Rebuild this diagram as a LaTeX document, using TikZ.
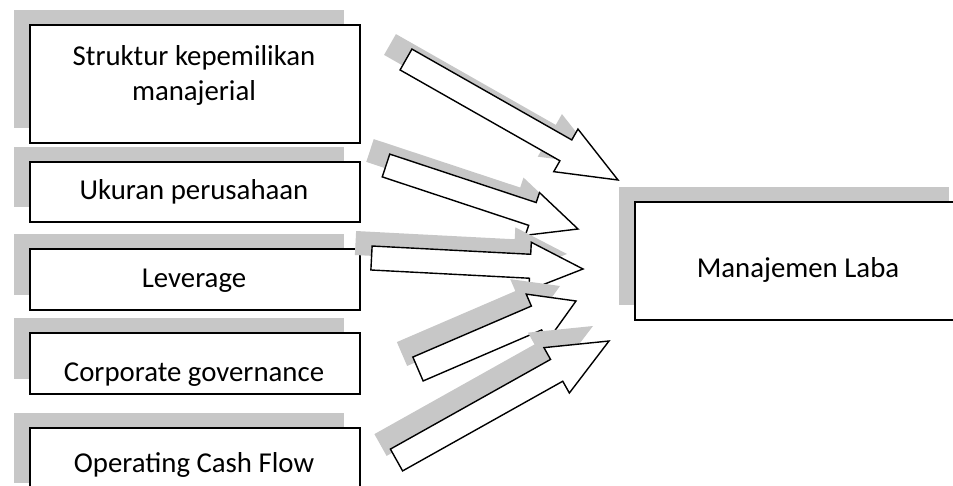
\documentclass[tikz,border=0pt]{standalone}
\usepackage{fontspec}
\setmainfont{Carlito}
\usetikzlibrary{calc}

\definecolor{shadowgray}{RGB}{199,199,199}

\tikzset{
  boxshadow/.style={preaction={fill=shadowgray, draw=none,
      transform canvas={shift={(-16pt,15pt)}}}},
  factorbox/.style={rectangle, draw=black, line width=2pt, fill=white,
      inner sep=0pt, anchor=north west, minimum width=330pt, boxshadow},
  boxtext/.style={anchor=base, inner sep=0pt,
      font=\fontsize{28.8}{35}\selectfont},
  flowshadow/.style={fill=shadowgray, draw=none,
      transform canvas={shift={(-16pt,15pt)}}},
  flowarrow/.style={draw=black, line width=1.4pt, fill=white, line join=miter},
}

% outline of a block arrow from tail #1 to tip #2,
% half shaft width #3, half head width #4 (head base point is (hb))
\newcommand\arrowoutline[4]{%
  ($(#1)!#3pt!-90:(#2)$) -- ($(hb)!#3pt!-90:(#2)$) --
  ($(hb)!#4pt!-90:(#2)$) -- (#2) -- ($(hb)!#4pt!90:(#2)$) --
  ($(hb)!#3pt!90:(#2)$) -- ($(#1)!#3pt!90:(#2)$) -- cycle}

% shadowed block arrow: tail, tip, half shaft, half head, head length
\newcommand\blockarrow[5]{%
  \coordinate (hb) at ($(#2)!#5pt!(#1)$);
  \fill[flowshadow] \arrowoutline{#1}{#2}{#3}{#4};
  \draw[flowarrow] \arrowoutline{#1}{#2}{#3}{#4};
}

\begin{document}
\begin{tikzpicture}[x=1pt, y=-1pt]
\useasboundingbox (0,0) rectangle (953,485);

% independent variables
\node[factorbox, minimum height=118pt] (struktur) at (29,24) {};
\node[factorbox, minimum height=60pt]  (ukuran)   at (29,161) {};
\node[factorbox, minimum height=61pt]  (leverage) at (29,248) {};
\node[factorbox, minimum height=61pt]  (cg)       at (29,332) {};
\node[factorbox, minimum height=70pt]  (ocf)      at (29,427) {};

% dependent variable
\node[factorbox, minimum height=118pt] (laba) at (634,201) {};

% box texts
\node[boxtext] (t-struktur1) at (194,65)  {Struktur kepemilikan};
\node[boxtext] (t-struktur2) at (194,100) {manajerial};
\node[boxtext] (t-ukuran)    at (194,199) {Ukuran perusahaan};
\node[boxtext] (t-leverage)  at (194,287) {Leverage};
\node[boxtext] (t-cg)        at (194,381) {Corporate governance};
\node[boxtext] (t-ocf)       at (194,472) {Operating Cash Flow};
\node[boxtext] (t-laba)      at (798,277) {Manajemen Laba};

% arrow tails and tips
\coordinate (a1s) at (406,59.5);  \coordinate (a1e) at (618,180);
\coordinate (a2s) at (386,165.5); \coordinate (a2e) at (578,229);
\coordinate (a3s) at (371.5,258); \coordinate (a3e) at (583,269);
\coordinate (a4s) at (418,369);   \coordinate (a4e) at (576,301);
\coordinate (a5s) at (396.5,460); \coordinate (a5e) at (609,341);

\blockarrow{a1s}{a1e}{12}{24.5}{60}
\blockarrow{a2s}{a2e}{12}{22.5}{48}
\blockarrow{a3s}{a3e}{12}{24}{53}
\blockarrow{a4s}{a4e}{13}{26}{43}
\blockarrow{a5s}{a5e}{12.5}{26}{60}
\end{tikzpicture}
\end{document}
